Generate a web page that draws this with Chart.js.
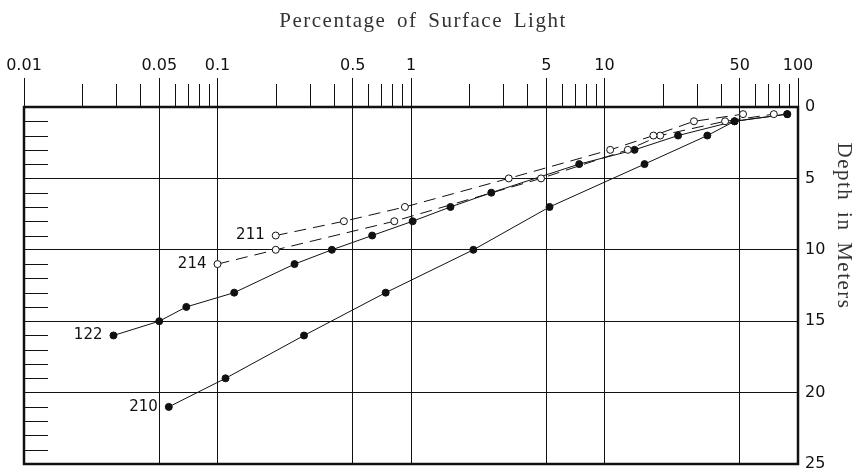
<!DOCTYPE html>
<html>
<head>
<meta charset="utf-8">
<script src="https://cdn.jsdelivr.net/npm/chart.js@4.4.1/dist/chart.umd.min.js"></script>
<style>
html, body { margin: 0; padding: 0; background: #fff; }
</style>
</head>
<body>
<canvas id="light" width="858" height="469"></canvas>
<script>
// percentage of surface light (x, log) against depth in meters (y)
var light122 = [0.029, 0.05, 0.069, 0.122, 0.25, 0.39, 0.63, 1.02, 1.6, 2.6, 7.4, 14.3, 24, 47, 88];
var depth122 = [16, 15, 14, 13, 11, 10, 9, 8, 7, 6, 4, 3, 2, 1, 0.5];

var light210 = [0.056, 0.11, 0.28, 0.74, 2.1, 5.2, 16.1, 34, 47, 88];
var depth210 = [21, 19, 16, 13, 10, 7, 4, 2, 1, 0.5];

var light211 = [0.2, 0.45, 0.93, 3.2, 10.7, 17.9, 29, 52];
var depth211 = [9, 8, 7, 5, 3, 2, 1, 0.5];

var light214 = [0.1, 0.2, 0.82, 4.7, 13.2, 19.4, 42, 75];
var depth214 = [11, 10, 8, 5, 3, 2, 1, 0.5];

var lightTicks = [0.01, 0.05, 0.1, 0.5, 1, 5, 10, 50, 100];
var lightMinor = [0.02, 0.03, 0.04, 0.06, 0.07, 0.08, 0.09,
                  0.2, 0.3, 0.4, 0.6, 0.7, 0.8, 0.9,
                  2, 3, 4, 6, 7, 8, 9,
                  20, 30, 40, 60, 70, 80, 90];
var depthMinor = [1, 2, 3, 4, 6, 7, 8, 9, 11, 12, 13, 14, 16, 17, 18, 19, 21, 22, 23, 24];

var ink = '#111';
var titleText = 'Percentage of Surface Light';
var depthTitle = 'Depth in Meters';

function pts(xs, ys) {
	return xs.map(function(v, i) { return { x: v, y: ys[i] }; });
}

function series(label, xs, ys, open) {
	return {
		label: label,
		data: pts(xs, ys),
		showLine: true,
		borderColor: ink,
		borderWidth: 1,
		borderDash: open ? [12, 7] : [],
		pointRadius: 3.5,
		pointBorderWidth: 1,
		pointBorderColor: ink,
		pointBackgroundColor: open ? '#fff' : ink
	};
}

var decor = {
	id: 'decor',
	afterDraw: function(chart) {
		var ctx = chart.ctx, a = chart.chartArea;
		var xs = chart.scales.x, ys = chart.scales.y;
		ctx.save();
		ctx.strokeStyle = ink;
		ctx.lineWidth = 1;
		ctx.beginPath();
		lightMinor.forEach(function(v) {
			var px = Math.round(xs.getPixelForValue(v)) + 0.5;
			ctx.moveTo(px, a.top - 23);
			ctx.lineTo(px, a.top);
		});
		depthMinor.forEach(function(d) {
			var py = Math.round(ys.getPixelForValue(d)) + 0.5;
			ctx.moveTo(a.left, py);
			ctx.lineTo(a.left + 24, py);
		});
		ctx.stroke();

		ctx.lineWidth = 2.5;
		ctx.strokeRect(a.left, a.top, a.right - a.left, a.bottom - a.top);

		// series numbers beside the deepest point
		ctx.font = '15px "DejaVu Sans"';
		ctx.fillStyle = ink;
		ctx.textAlign = 'right';
		ctx.textBaseline = 'middle';
		chart.data.datasets.forEach(function(ds, i) {
			var p = chart.getDatasetMeta(i).data[0];
			ctx.fillText(ds.label, p.x - 11, p.y);
		});

		ctx.font = '21px "Liberation Serif"';
		ctx.letterSpacing = '1.5px';
		ctx.wordSpacing = '4px';
		ctx.fillStyle = '#333';
		ctx.textAlign = 'center';
		ctx.textBaseline = 'alphabetic';
		ctx.fillText(titleText, 423, 27);

		ctx.translate(838, 226);
		ctx.rotate(Math.PI / 2);
		ctx.fillText(depthTitle, 0, 0);
		ctx.restore();
	}
};

var config = {
	type: 'scatter',
	data: {
		datasets: [
			series('211', light211, depth211, true),
			series('214', light214, depth214, true),
			series('122', light122, depth122, false),
			series('210', light210, depth210, false)
		]
	},
	options: {
		responsive: false,
		animation: false,
		layout: { padding: { left: 24, right: 0, top: 0, bottom: 5 } },
		plugins: {
			legend: { display: false },
			title: { display: false },
			tooltip: { enabled: false }
		},
		scales: {
			x: {
				type: 'logarithmic',
				position: 'top',
				min: 0.01,
				max: 100,
				afterBuildTicks: function(s) {
					s.ticks = lightTicks.map(function(v) { return { value: v }; });
				},
				afterFit: function(s) {
					s.height = 107;
					s.paddingLeft = 0;
					s.paddingRight = 0;
				},
				border: { display: false },
				grid: { color: ink, lineWidth: 1, tickLength: 29, tickColor: ink },
				ticks: {
					color: ink,
					font: { family: 'DejaVu Sans', size: 16 },
					padding: 3,
					maxRotation: 0,
					autoSkip: false,
					callback: function(v) { return String(v); }
				}
			},
			y: {
				type: 'linear',
				position: 'right',
				reverse: true,
				min: 0,
				max: 25,
				afterFit: function(s) {
					s.width = 60;
					s.paddingTop = 0;
					s.paddingBottom = 0;
				},
				border: { display: false },
				grid: { color: ink, lineWidth: 1, drawTicks: false },
				ticks: {
					stepSize: 5,
					color: ink,
					font: { family: 'DejaVu Sans', size: 16 },
					padding: 7
				}
			}
		}
	},
	plugins: [decor]
};

window.onload = function() {
	window.lightChart = new Chart(document.getElementById('light'), config);
};
</script>
</body>
</html>
